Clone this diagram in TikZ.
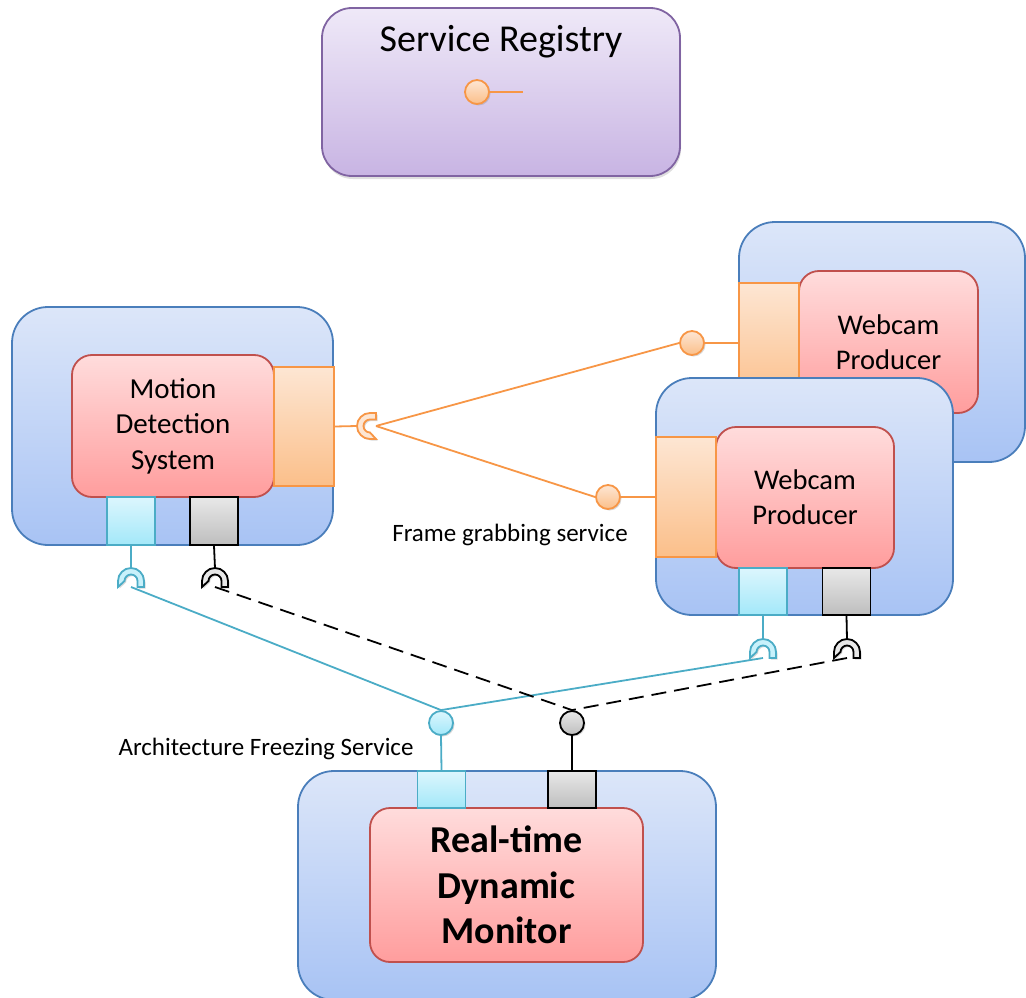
\documentclass[tikz,border=0pt]{standalone}
\usepackage{fontspec}
\setmainfont{Carlito}
\usepackage{tikz}
\definecolor{boxblueT}{RGB}{220, 230, 249}
\definecolor{boxblueB}{RGB}{168, 195, 244}
\definecolor{boxblueD}{RGB}{74, 126, 187}
\definecolor{coreT}{RGB}{255, 220, 220}
\definecolor{coreB}{RGB}{255, 157, 157}
\definecolor{coreD}{RGB}{192, 80, 77}
\definecolor{portorT}{RGB}{253, 230, 211}
\definecolor{portorB}{RGB}{251, 191, 138}
\definecolor{portorD}{RGB}{247, 150, 70}
\definecolor{cyanT}{RGB}{220, 246, 253}
\definecolor{cyanB}{RGB}{163, 232, 249}
\definecolor{cyanD}{RGB}{75, 172, 198}
\definecolor{grayT}{RGB}{232, 232, 232}
\definecolor{grayB}{RGB}{190, 190, 190}
\definecolor{regT}{RGB}{239, 233, 248}
\definecolor{regB}{RGB}{200, 180, 227}
\definecolor{regD}{RGB}{128, 100, 162}
\usetikzlibrary{shadows}
\tikzset{
    socket/.pic={
        \path[pic actions, drop shadow={opacity=0.3, shadow xshift=1.5pt, shadow yshift=-1.5pt}]
            (-13pt,0pt) -- (-13pt,6pt) arc[start angle=180, end angle=0, radius=13pt]
            -- (13pt,0pt) -- (6.5pt,0pt) -- (6.5pt,6pt) arc[start angle=0, end angle=180, radius=6.5pt] -- cycle;
    }
}

\begin{document}
\begin{tikzpicture}[x=1pt, y=-1pt]
    \tikzstyle{outerbox} = [rectangle, rounded corners=36pt, draw=boxblueD, line width=1.8pt,
                            top color=boxblueT, bottom color=boxblueB]
    \tikzstyle{corebox} = [rectangle, rounded corners=20pt, draw=coreD, line width=1.8pt,
                           top color=coreT, bottom color=coreB, align=center, inner sep=0pt]
    \tikzstyle{frameport} = [rectangle, draw=portorD, line width=1.8pt, top color=portorT,
                             bottom color=portorB, minimum width=60pt, minimum height=120pt]
    \tikzstyle{freezeport} = [rectangle, draw=cyanD, line width=1.8pt, top color=cyanT,
                              bottom color=cyanB, minimum width=48pt, minimum height=48pt]
    \tikzstyle{grayport} = [rectangle, draw=black, line width=1.8pt, top color=grayT,
                            bottom color=grayB, minimum width=48pt, minimum height=48pt]
    \tikzstyle{lolshadow} = [drop shadow={opacity=0.3, shadow xshift=1.5pt, shadow yshift=-1.5pt}]
    \tikzstyle{framelol} = [circle, minimum size=24pt, inner sep=0pt, draw=portorD, line width=1.8pt,
                            top color=portorT, bottom color=portorB, lolshadow]
    \tikzstyle{freezelol} = [circle, minimum size=24pt, inner sep=0pt, draw=cyanD, line width=1.8pt,
                             top color=cyanT, bottom color=cyanB, lolshadow]
    \tikzstyle{graylol} = [circle, minimum size=24pt, inner sep=0pt, draw=black, line width=1.8pt,
                           top color=grayT, bottom color=grayB, lolshadow]
    \tikzstyle{framewire} = [draw=portorD, line width=1.8pt]
    \tikzstyle{freezewire} = [draw=cyanD, line width=1.8pt]
    \tikzstyle{graywire} = [draw=black, line width=1.8pt, dash pattern=on 15pt off 8pt]
    \tikzstyle{caption} = [font=\fontsize{25}{30}\selectfont]

    \useasboundingbox (0,0) rectangle (1026,998);
    \clip (0,0) rectangle (1026,998);

    % Service registry
    \node[rectangle, rounded corners=30pt, draw=regD, line width=1.8pt, top color=regT, bottom color=regB,
          minimum width=358pt, minimum height=168pt,
          drop shadow={opacity=0.25, shadow xshift=1pt, shadow yshift=-3pt}] (registry) at (501,92) {};
    \node[font=\fontsize{38}{45}\selectfont] (regTitle) at (501,42) {Service Registry};
    \node[framelol] (regLol) at (477,92) {};
    \coordinate (regEnd) at (523,92);

    % Webcam producer (back)
    \node[outerbox, minimum width=286pt, minimum height=240pt] (backCam) at (882,342) {};
    \node[corebox, minimum width=179pt, minimum height=142pt, font=\fontsize{28.5}{35}\selectfont]
          (backCore) at (888.5,342) {Webcam\\Producer};
    \node[frameport] (backFrame) at (769,343) {};
    \node[framelol] (backLol) at (692,343) {};

    % Webcam producer (front)
    \node[outerbox, minimum width=297pt, minimum height=237pt] (frontCam) at (804.5,496.5) {};
    \node[corebox, minimum width=178pt, minimum height=141pt, font=\fontsize{28.5}{35}\selectfont]
          (frontCore) at (805,497.5) {Webcam\\Producer};
    \node[frameport] (frontFrame) at (686,497) {};
    \node[framelol] (frontLol) at (608,497) {};
    \node[freezeport, minimum height=47pt] (frontFreeze) at (763,591.5) {};
    \node[grayport, minimum height=47pt] (frontGray) at (846.5,591.5) {};
    \coordinate (frontFreezeSock) at (763,658);
    \coordinate (frontFreezeTip) at (763,639);
    \coordinate (frontGraySock) at (847,658);
    \coordinate (frontGrayTip) at (847,639);

    % Motion detection system
    \node[outerbox, minimum width=321pt, minimum height=238pt] (mds) at (172.5,426) {};
    \node[corebox, minimum width=202pt, minimum height=142pt, font=\fontsize{29}{35.5}\selectfont]
          (mdsCore) at (173,426) {Motion\\Detection\\System};
    \node[frameport, minimum height=119pt] (mdsFrame) at (304,426.5) {};
    \node[freezeport] (mdsFreeze) at (131,521) {};
    \node[grayport] (mdsGray) at (214,521) {};
    \coordinate (mdsFrameSock) at (376,426);
    \coordinate (mdsFrameTip) at (357,426);
    \coordinate (mdsFreezeSock) at (131,587);
    \coordinate (mdsFreezeTip) at (131,568);
    \coordinate (mdsGraySock) at (215,587);
    \coordinate (mdsGrayTip) at (215,568);

    % Real-time dynamic monitor
    \node[outerbox, minimum width=418pt, minimum height=229pt] (monitor) at (507,885.5) {};
    \node[corebox, minimum width=273pt, minimum height=154pt, font=\bfseries\fontsize{38}{45.5}\selectfont]
          (monCore) at (506.5,885) {Real-time\\Dynamic\\Monitor};
    \node[freezeport, minimum height=37pt] (monFreeze) at (441.5,789.5) {};
    \node[grayport, minimum height=37pt] (monGray) at (572,789.5) {};
    \node[freezelol] (monFreezeLol) at (441,723) {};
    \node[graylol] (monGrayLol) at (572,723) {};

    % Labels
    \node[caption] (frameLabel) at (510,535) {Frame grabbing service};
    \node[caption] (freezeLabel) at (266,749) {Architecture Freezing Service};

    % Frame grabbing wires
    \draw[framewire] (regLol.east) -- (regEnd);
    \draw[framewire] (backLol.east) -- (backFrame.west);
    \draw[framewire] (frontLol.east) -- (frontFrame.west);
    \draw[framewire] (mdsFrame.east) -- (mdsFrameTip);
    \draw[framewire] (mdsFrameSock) -- (backLol.west);
    \draw[framewire] (mdsFrameSock) -- (frontLol.west);

    % Freezing wires
    \draw[freezewire] (mdsFreeze.south) -- (mdsFreezeTip);
    \draw[freezewire] (frontFreeze.south) -- (frontFreezeTip);
    \draw[freezewire] (monFreeze.north) -- (monFreezeLol.south);
    \draw[freezewire] (mdsFreezeSock) -- (monFreezeLol.north);
    \draw[freezewire] (frontFreezeSock) -- (monFreezeLol.north);

    % Gray wires
    \draw[draw=black, line width=1.8pt] (mdsGray.south) -- (mdsGrayTip);
    \draw[draw=black, line width=1.8pt] (frontGray.south) -- (frontGrayTip);
    \draw[draw=black, line width=1.8pt] (monGray.north) -- (monGrayLol.south);
    \draw[graywire] (mdsGraySock) -- (monGrayLol.north);
    \draw[graywire] (frontGraySock) -- (monGrayLol.north);

    % Sockets
    \pic[draw=portorD, fill=portorT, line width=1.8pt, rotate=90] at (mdsFrameSock) {socket};
    \pic[draw=cyanD, fill=cyanB!60, line width=1.8pt] at (mdsFreezeSock) {socket};
    \pic[draw=black, fill=grayT, line width=1.8pt] at (mdsGraySock) {socket};
    \pic[draw=cyanD, fill=cyanB!60, line width=1.8pt] at (frontFreezeSock) {socket};
    \pic[draw=black, fill=grayT, line width=1.8pt] at (frontGraySock) {socket};
\end{tikzpicture}
\end{document}
